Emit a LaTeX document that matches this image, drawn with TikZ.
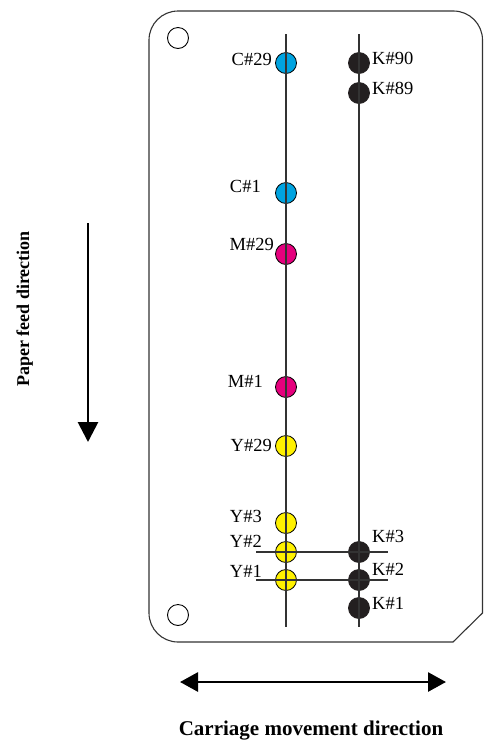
\documentclass[tikz,border=0pt]{standalone}
\usepackage{fontspec}
\setmainfont{Liberation Serif}
\usetikzlibrary{arrows.meta}
\definecolor{cyanink}{HTML}{00A3E0}
\definecolor{magink}{HTML}{E5007D}
\definecolor{yelink}{HTML}{FFF100}
\definecolor{blkink}{HTML}{231F20}
\definecolor{lineink}{HTML}{333333}
\tikzset{
  boardline/.style={draw=lineink, line width=1.1pt},
  hole/.style={circle, draw=black, line width=0.9pt, minimum size=21pt, inner sep=0pt},
  nozzle/.style={circle, draw=black, line width=0.8pt, minimum size=21pt, inner sep=0pt},
  rowline/.style={draw=lineink, line width=1.1pt},
  lbl/.style={inner sep=0pt, font=\fontsize{18.5}{20}\selectfont},
  bigarrow/.style={draw=black, line width=2.8pt, -{Triangle[length=20pt,width=20pt]}},
  dblarrow/.style={draw=black, line width=2.8pt, {Triangle[length=18pt,width=19pt]}-{Triangle[length=18pt,width=19pt]}},
  caption/.style={inner sep=0pt, font=\bfseries\fontsize{21}{23}\selectfont},
  sidecaption/.style={inner sep=0pt, font=\bfseries\fontsize{18}{20}\selectfont}
}
\begin{document}
\begin{tikzpicture}[x=1pt,y=-1pt]
\useasboundingbox (0,0) rectangle (483,740);
% board outline
\draw[boardline] (453,642) [rounded corners=29pt] -- (149,642) -- (149,11) -- (482.5,11) [sharp corners] -- (482.5,613) -- cycle;
% mounting holes
\node[hole] (holetop) at (178,38) {};
\node[hole] (holebot) at (178,615) {};
% nozzles
\node[nozzle, fill=cyanink] (c29) at (286,63) {};
\node[nozzle, fill=cyanink] (c1) at (286,193) {};
\node[nozzle, fill=magink] (m29) at (286,254) {};
\node[nozzle, fill=magink] (m1) at (286,387) {};
\node[nozzle, fill=yelink] (y29) at (286,446) {};
\node[nozzle, fill=yelink] (y3) at (286,523) {};
\node[nozzle, fill=yelink] (y2) at (286,552) {};
\node[nozzle, fill=yelink] (y1) at (286,580) {};
\node[nozzle, fill=blkink, draw=blkink] (k90) at (359,63) {};
\node[nozzle, fill=blkink, draw=blkink] (k89) at (359,93) {};
\node[nozzle, fill=blkink, draw=blkink] (k3) at (359,552) {};
\node[nozzle, fill=blkink, draw=blkink] (k2) at (359,580) {};
\node[nozzle, fill=blkink, draw=blkink] (k1) at (359,608) {};
% column and row lines
\coordinate (ltop) at (286,34);
\coordinate (lbot) at (286,627);
\coordinate (rtop) at (359,34);
\coordinate (rbot) at (359,627);
\coordinate (r2l) at (256,552);
\coordinate (r2r) at (388,552);
\coordinate (r1l) at (256,580);
\coordinate (r1r) at (388,580);
\draw[rowline] (ltop) -- (lbot);
\draw[rowline] (rtop) -- (rbot);
\draw[rowline] (r2l) -- (r2r);
\draw[rowline] (r1l) -- (r1r);
% labels
\node[lbl, anchor=base east] (lc29) at (272,65) {C\#29};
\node[lbl, anchor=base east] (lc1) at (261,192) {C\#1};
\node[lbl, anchor=base east] (lm29) at (274,250) {M\#29};
\node[lbl, anchor=base east] (lm1) at (263,387) {M\#1};
\node[lbl, anchor=base east] (ly29) at (272,451) {Y\#29};
\node[lbl, anchor=base east] (ly3) at (262,522) {Y\#3};
\node[lbl, anchor=base east] (ly2) at (262,547) {Y\#2};
\node[lbl, anchor=base east] (ly1) at (262,577) {Y\#1};
\node[lbl, anchor=base west] (lk90) at (372,64) {K\#90};
\node[lbl, anchor=base west] (lk89) at (372,94) {K\#89};
\node[lbl, anchor=base west] (lk3) at (372,542) {K\#3};
\node[lbl, anchor=base west] (lk2) at (372,575) {K\#2};
\node[lbl, anchor=base west] (lk1) at (372,609) {K\#1};
% direction arrows
\coordinate (feedtop) at (88,223);
\coordinate (feedbot) at (88,442);
\draw[bigarrow] (feedtop) -- (feedbot);
\node[sidecaption, rotate=90, anchor=base] (feedtxt) at (29,309) {Paper feed direction};
\coordinate (carl) at (180,682);
\coordinate (carr) at (446,682);
\draw[dblarrow] (carl) -- (carr);
\node[caption, anchor=base] (cartxt) at (311,735) {Carriage movement direction};
\end{tikzpicture}
\end{document}
